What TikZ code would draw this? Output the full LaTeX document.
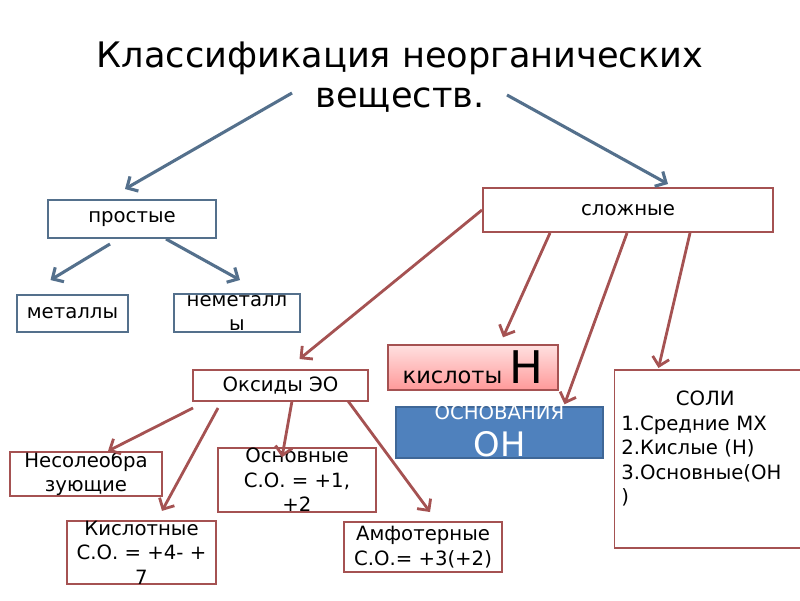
\documentclass[tikz,border=0pt]{standalone}
\usepackage{fontspec}
\setmainfont{DejaVu Sans}
\usetikzlibrary{arrows.meta,calc}
\definecolor{bluegray}{RGB}{84,112,140}
\definecolor{brickred}{RGB}{165,82,82}
\definecolor{osnblue}{RGB}{79,129,189}
\begin{document}
\begin{tikzpicture}[x=0.025cm,y=-0.025cm,
    txt/.style={font=\fontsize{14}{17.4}\selectfont,align=center,inner sep=0pt},
    bbox/.style={txt,draw=bluegray,line width=1.4pt,fill=white},
    rbox/.style={txt,draw=brickred,line width=1.4pt,fill=white},
    barr/.style={bluegray,line width=2.2pt,-{Straight Barb[length=6pt,width=12pt]}},
    rarr/.style={brickred,line width=2pt,-{Straight Barb[length=6pt,width=12pt]}}]
  \useasboundingbox (0,0) rectangle (800,600);
  \node[font=\fontsize{25}{29}\selectfont,align=center] (title) at (400,77)
    {Классификация неорганических\\веществ.};
  % simple substances
  \node[bbox,minimum width=4.2cm,minimum height=0.95cm] (prost) at (132,219) {простые};
  \node[bbox,minimum width=2.775cm,minimum height=0.925cm] (metal) at (72.5,313.5) {металлы};
  \node[bbox,minimum width=3.15cm,minimum height=0.95cm] (nemet) at (237,313) {неметалл\\ы};
  % complex substances
  \node[rbox,minimum width=7.25cm,minimum height=1.1cm] (slozh) at (628,210) {сложные};
  \node[draw=brickred,line width=1pt,top color=red!12,bottom color=red!40,
        minimum width=4.25cm,minimum height=1.125cm,inner sep=0pt] (kisl) at (473,367.5)
    {\fontsize{16}{18}\selectfont кислоты \fontsize{32}{32}\selectfont H};
  \node[draw=osnblue!80!black,line width=1pt,fill=osnblue,text=white,
        minimum width=5.175cm,minimum height=1.275cm,inner sep=0pt,
        label={[text=white,inner sep=0pt,anchor=north,yshift=1.5pt,
                font=\fontsize{14}{14}\selectfont]north:ОСНОВАНИЯ}] (osn) at (499.5,432.5)
    {\fontsize{24}{24}\selectfont\raisebox{-17pt}[0pt][0pt]{OH}};
  \node[rbox,minimum width=4.7cm,minimum height=4.45cm] (soli) at (708.5,459) {};
  \node[txt,align=left,text width=4.2cm,anchor=north west] (solitxt) at (621,391)
    {\makebox[4.2cm]{СОЛИ}\\1.Средние МХ\\2.Кислые (Н)\\3.Основные(ОН\\)};
  % oxides
  \node[rbox,minimum width=4.375cm,minimum height=0.775cm] (oks) at (280.5,385.5) {Оксиды ЭО};
  \node[rbox,minimum width=3.8cm,minimum height=1.1cm] (nesol) at (86,474) {Несолеобра\\зующие};
  \node[rbox,minimum width=3.95cm,minimum height=1.4cm] (osnov) at (297,480) {Основные\\С.О. = +1,\\+2};
  \node[rbox,minimum width=3.725cm,minimum height=1.275cm] (kislot) at (141.5,552.5) {Кислотные\\С.О. = +4- +\\7};
  \node[rbox,minimum width=3.95cm,minimum height=1.25cm] (amf) at (423,547) {Амфотерные\\С.О.= +3(+2)};
  % arrows
  \coordinate (tl) at (292,93);
  \coordinate (tr) at (507,95);
  \draw[barr] (tl) -- ($(prost.north)+(-7,-10)$);
  \draw[barr] (tr) -- ($(slozh.north)+(40,-3)$);
  \draw[barr] ($(prost.south)+(-22,5)$) -- ($(metal.north)+(-22,-14)$);
  \draw[barr] ($(prost.south)+(34,0)$) -- ($(nemet.north)+(3,-13)$);
  \draw[rarr] (slozh.west) -- ($(oks.north)+(19,-10)$);
  \foreach \sx/\t/\ex/\ey in {-78/kisl/30/-7, -1/osn/65/-2, 62/soli/-50/-1}
    \draw[rarr] ($(slozh.south)+(\sx,0)$) -- ($(\t.north)+(\ex,\ey)$);
  \foreach \sx/\sy/\t/\ex/\ey in {-87.5/6/nesol/22/0, -62.5/6/kislot/20.5/-9,
                                  11.5/-1/osnov/-15/10, 67.5/-1/amf/7/-9}
    \draw[rarr] ($(oks.south)+(\sx,\sy)$) -- ($(\t.north)+(\ex,\ey)$);
\end{tikzpicture}
\end{document}
